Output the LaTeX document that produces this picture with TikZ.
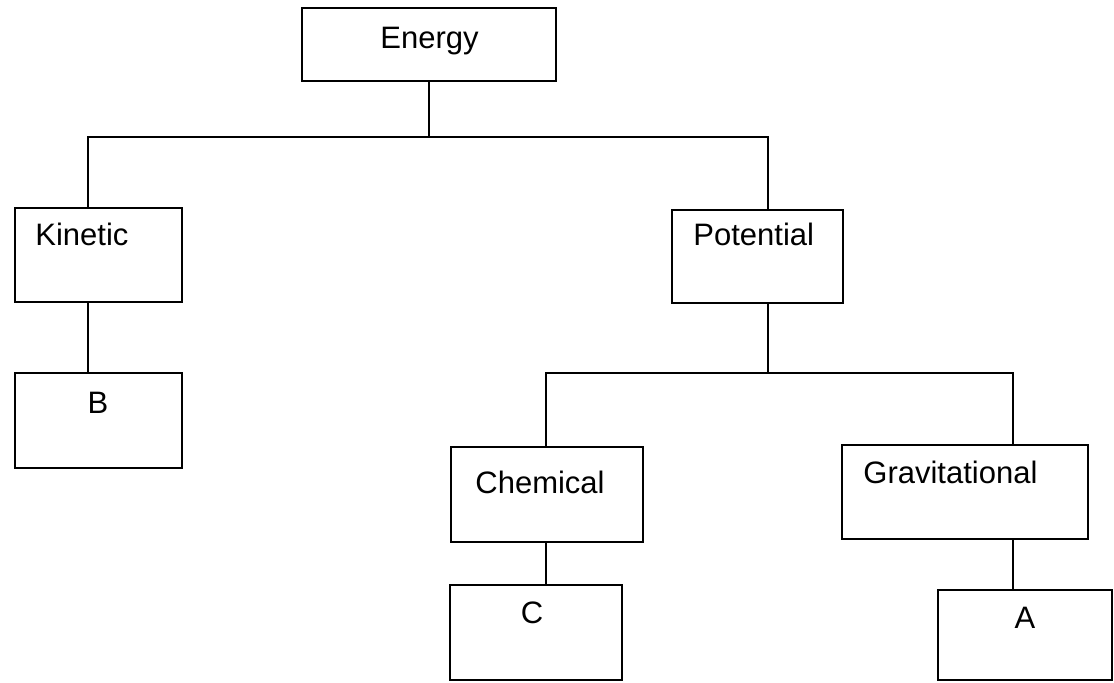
\documentclass[tikz,border=0pt]{standalone}
\usepackage{fontspec}
\setmainfont{Liberation Sans}
\begin{document}
\begin{tikzpicture}[x=0.5pt,y=0.5pt,yscale=-1,xscale=1,
  box/.style={draw, line width=0.8pt, inner sep=0pt, outer sep=0pt},
  lbl/.style={inner sep=0pt, font=\fontsize{15.5pt}{18pt}\selectfont}]
\useasboundingbox (0,0) rectangle (1114,682);

\node (energy) [box, minimum width=127pt, minimum height=36.5pt] at (429,44.5) {};
\node (kin) [box, minimum width=83.5pt, minimum height=47pt] at (98.5,255) {};
\node (b) [box, minimum width=83.5pt, minimum height=47.5pt] at (98.5,420.5) {};
\node (pot) [box, minimum width=85.5pt, minimum height=46.5pt] at (757.5,256.5) {};
\node (chem) [box, minimum width=96pt, minimum height=47.5pt] at (547,494.5) {};
\node (c) [box, minimum width=86pt, minimum height=47.5pt] at (536,632.5) {};
\node (grav) [box, minimum width=123pt, minimum height=47pt] at (965,492) {};
\node (a) [box, minimum width=87pt, minimum height=45pt] at (1025,635) {};

\coordinate (bus1-l) at (88,137);
\coordinate (bus1-r) at (768,137);
\coordinate (bus2-l) at (546,373);
\coordinate (bus2-r) at (1013,373);

\draw [line width=0.8pt] (energy.south) -- (energy.south |- bus1-l);
\draw [line width=0.8pt] (bus1-l |- kin.north) -- (bus1-l) -- (bus1-r) -- (bus1-r |- pot.north);
\draw [line width=0.8pt] (kin.south -| bus1-l) -- (b.north -| bus1-l);
\draw [line width=0.8pt] (pot.south -| bus1-r) -- (bus2-l -| bus1-r);
\draw [line width=0.8pt] (bus2-l |- chem.north) -- (bus2-l) -- (bus2-r) -- (bus2-r |- grav.north);
\draw [line width=0.8pt] (chem.south -| bus2-l) -- (c.north -| bus2-l);
\draw [line width=0.8pt] (grav.south -| bus2-r) -- (a.north -| bus2-r);

\node (energy-t) [lbl, anchor=base west] at (380,48) {Energy};
\node (kin-t) [lbl, anchor=base west] at (35,245) {Kinetic};
\node (pot-t) [lbl, anchor=base west] at (693,245) {Potential};
\node (chem-t) [lbl, anchor=base west] at (475,493) {Chemical};
\node (grav-t) [lbl, anchor=base west] at (863,483) {Gravitational};
\node (b-t) [lbl, anchor=base] at (98,413) {B};
\node (c-t) [lbl, anchor=base] at (532,623) {C};
\node (a-t) [lbl, anchor=base] at (1025,628) {A};

\end{tikzpicture}
\end{document}
